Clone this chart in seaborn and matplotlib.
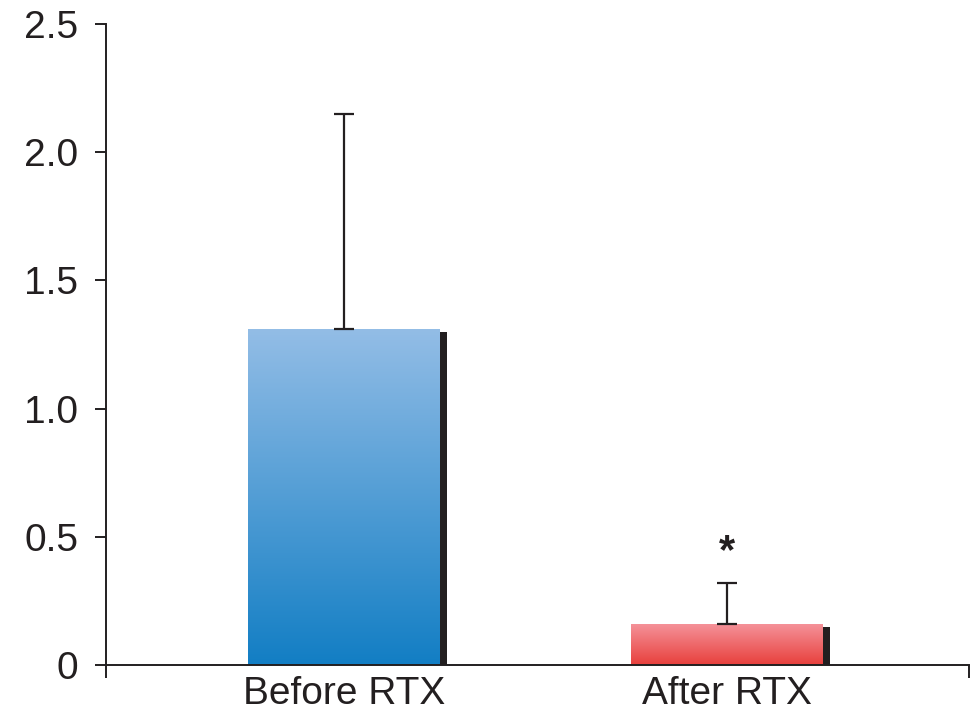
import numpy as np
import pandas as pd
import matplotlib
matplotlib.use('Agg')
import matplotlib.pyplot as plt
import matplotlib.transforms as mtransforms
from matplotlib.colors import LinearSegmentedColormap
import seaborn as sns

# data
groups = ['Before RTX', 'After RTX']
mean_vals = [1.31, 0.16]
err_upper = [0.84, 0.16]
y_ticks = [0, 0.5, 1.0, 1.5, 2.0, 2.5]
y_tick_labels = ['0', '0.5', '1.0', '1.5', '2.0', '2.5']
marks = ['', '*']

# gradient colours (top -> bottom)
grad_colors = [('#93bde6', '#127ec4'), ('#f5939b', '#e8403c')]

sns.set_theme(style='white')
plt.rcParams['font.family'] = ['Liberation Sans', 'DejaVu Sans']

df = pd.DataFrame({'group': groups, 'value': mean_vals})

fig = plt.figure(figsize=(9.76, 7.18), dpi=100)
ax = fig.add_axes([0.1086, 0.0738, 0.8842, 0.8928])

# black shadow bars, shifted a bit right/down
sns.barplot(data=df, x='group', y='value', color='#231f20', width=0.5,
            errorbar=None, saturation=1, ax=ax)
shadow_tr = mtransforms.offset_copy(ax.transData, fig=fig, x=7, y=-3,
                                    units='dots')
for p in ax.containers[0]:
    p.set_transform(shadow_tr)
    p.set_edgecolor('none')
    p.set_zorder(1)

# main bars
sns.barplot(data=df, x='group', y='value', color='white', width=0.5,
            errorbar=None, saturation=1, ax=ax)

xlim = (-0.62, 1.63)
ax.set_xlim(*xlim)
ax.set_ylim(0, 2.5)

for p, (c_top, c_bot) in zip(ax.containers[1], grad_colors):
    p.set_facecolor('none')
    p.set_edgecolor('none')
    x0, y0 = p.get_x(), p.get_y()
    w, h = p.get_width(), p.get_height()
    cmap = LinearSegmentedColormap.from_list('g', [c_bot, c_top])
    grad = np.linspace(0, 1, 256).reshape(-1, 1)
    im = ax.imshow(grad, cmap=cmap, origin='lower', aspect='auto',
                   extent=(x0, x0 + w, y0, y0 + h), zorder=2)
    im.set_clip_path(p)

# upper error bars only
ax.errorbar(x=range(len(groups)), y=mean_vals,
            yerr=[np.zeros(len(groups)), err_upper],
            fmt='none', ecolor='#231f20', elinewidth=1.6,
            capsize=7.5, capthick=1.6, zorder=3)

# significance marker
for i, m in enumerate(marks):
    if m:
        ax.annotate(m, xy=(i, mean_vals[i] + err_upper[i]),
                    xytext=(0, 8), textcoords='offset points',
                    ha='center', va='bottom', fontsize=30,
                    fontweight='bold', color='#231f20')

ax.set_xlim(*xlim)
ax.set_ylim(0, 2.5)

# axes styling
sns.despine(ax=ax)
for s in ['left', 'bottom']:
    ax.spines[s].set_linewidth(1.4)
    ax.spines[s].set_color('#231f20')
    ax.spines[s].set_zorder(4)

ax.set_yticks(y_ticks)
ax.set_yticklabels(y_tick_labels)
ax.tick_params(axis='y', direction='out', length=8, width=1.4,
               color='#231f20', pad=12, labelsize=28, labelcolor='#231f20',
               left=True)
ax.tick_params(axis='x', which='major', length=0, pad=8, labelsize=28,
               labelcolor='#231f20')
ax.set_xticks(list(xlim), minor=True)
ax.tick_params(axis='x', which='minor', direction='out', length=9,
               width=1.4, color='#231f20', bottom=True)
ax.set_xlabel('')
ax.set_ylabel('')

fig.savefig('out.png', dpi=100)
